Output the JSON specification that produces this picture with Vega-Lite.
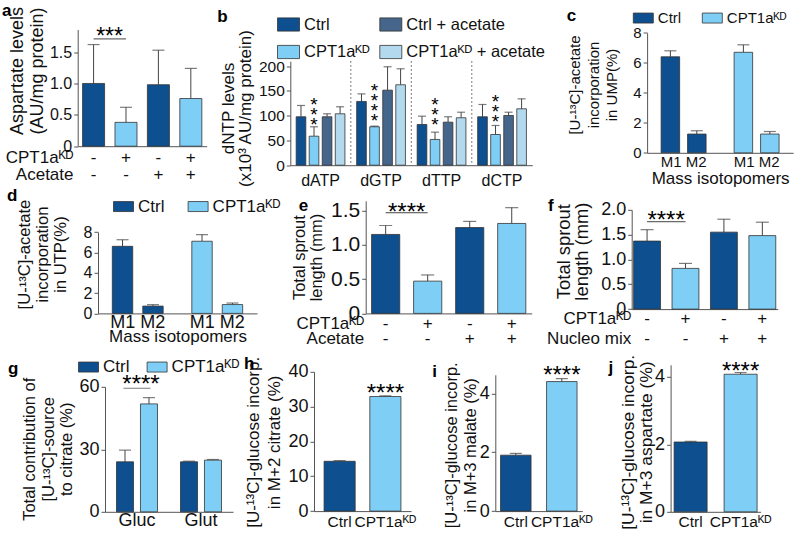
{
  "$schema": "https://vega.github.io/schema/vega-lite/v6.json",
  "background": "white",
  "padding": {"left": 2, "top": 1.5, "right": 0, "bottom": 0},
  "columns": 1,
  "spacing": -1.7,
  "resolve": {"scale": {"color": "independent", "xOffset": "independent"}, "legend": {"color": "independent"}},
  "config": {
    "font": "Liberation Sans",
    "view": {"stroke": null},
    "axis": {"labelFont": "Liberation Sans", "titleFont": "Liberation Sans", "labelFontSize": 17, "titleFontSize": 17, "titleFontWeight": "normal", "labelColor": "#111", "titleColor": "#111", "domainColor": "#555", "tickColor": "#555", "grid": false, "titleLineHeight": 19},
    "axisY": {"tickSize": 4, "labelPadding": 2, "titlePadding": 3, "tickCount": 20},
    "axisX": {"ticks": false, "labelAngle": 0, "labelPadding": 3},
    "legend": {"labelFont": "Liberation Sans", "labelFontSize": 17, "labelColor": "#111", "symbolStrokeColor": "#333", "symbolStrokeWidth": 1, "symbolOpacity": 1, "labelOffset": 4, "padding": 0},
    "title": {"font": "Liberation Sans", "fontSize": 17, "fontWeight": "bold", "anchor": "start", "frame": "group", "color": "#000", "baseline": "alphabetic"},
    "bar": {"stroke": "#333", "strokeWidth": 0.8},
    "tick": {"thickness": 1.2, "color": "#444"},
    "rule": {"color": "#444"},
    "text": {"font": "Liberation Sans", "color": "#000"}
  },
  "concat": [
    {
      "columns": 2, "spacing": -16.7,
      "resolve": {"scale": {"color": "independent", "xOffset": "independent"}, "legend": {"color": "independent"}},
      "concat": [
        {
          "width": 101.7, "height": 116.7,
          "title": {"text": "a", "dx": -103, "offset": -14},
          "data": {"values": [
            {"k": "-|-", "g": "Ctrl", "v": 1.0, "e": 1.62},
            {"k": "+|-", "g": "KD", "v": 0.38, "e": 0.62},
            {"k": "-|+", "g": "Ctrl", "v": 0.98, "e": 1.53},
            {"k": "+|+", "g": "KD", "v": 0.76, "e": 1.24}
          ]},
          "layer": [
            {"mark": {"type": "rule"},
             "encoding": {
               "x": {"field": "k", "type": "nominal", "scale": {"domain": ["-|-", "+|-", "-|+", "+|+"], "range": [-27.3, 101.7], "paddingInner": 0.32, "paddingOuter": 0.15},
                     "axis": {"title": ["CPT1aᴷᴰ", "Acetate"], "labelExpr": "split(datum.label,'|')", "labelFontSize": 17, "labelLineHeight": 17, "labelPadding": 3, "titleFontSize": 17, "titleAngle": 0, "titleAlign": "right", "titleBaseline": "top", "titleX": -32, "titleY": 3, "titleLineHeight": 17}},
               "y": {"field": "v", "type": "quantitative", "scale": {"domain": [0, 1.86], "nice": false},
                     "axis": {"values": [0, 0.5, 1, 1.5], "tickCount": 20, "offset": 27.3, "labelExpr": "datum.value < 0.001 ? '0' : format(datum.value, '.1f')", "labelFontSize": 16, "title": ["Aspartate levels", "(AU/mg protein)"], "titleFontSize": 18, "titleLineHeight": 20, "titlePadding": 2.5, "titleY": 41}},
               "y2": {"field": "e"}}},
            {"mark": {"type": "bar"},
             "encoding": {"x": {"field": "k", "type": "nominal"}, "y": {"field": "v", "type": "quantitative"},
               "color": {"field": "g", "type": "nominal", "scale": {"domain": ["Ctrl", "KD"], "range": ["#0d4f8f", "#7fcef5"]}, "legend": null}}},
            {"mark": {"type": "tick", "size": 12},
             "encoding": {"x": {"field": "k", "type": "nominal"}, "y": {"field": "e", "type": "quantitative"}}},
            {"data": {"values": [{"k": "-|-", "k2": "+|-", "v": 1.71, "sy": 1.915, "t": "***"}]},
             "layer": [
               {"mark": {"type": "rule"}, "encoding": {"x": {"field": "k", "type": "nominal"}, "x2": {"field": "k2"}, "y": {"field": "v", "type": "quantitative"}}},
               {"mark": {"type": "text", "fontSize": 23, "baseline": "top", "dx": 16}, "encoding": {"x": {"field": "k", "type": "nominal"}, "y": {"field": "sy", "type": "quantitative"}, "text": {"field": "t"}}}
             ]}
          ]
        },
        {
          "columns": 2, "spacing": 19.8,
          "resolve": {"scale": {"color": "independent", "xOffset": "independent"}, "legend": {"color": "independent"}},
          "concat": [
            {
              "width": 242, "height": 135.7,
              "title": {"text": "b", "dx": -73, "offset": -12.5},
              "data": {"values": [
                {"g": "dATP", "s": "Ctrl", "v": 97.8, "e": 120.6},
                {"g": "dATP", "s": "CPT1aᴷᴰ", "v": 58.6, "e": 77.6},
                {"g": "dATP", "s": "Ctrl + acetate", "v": 97.8, "e": 103.8},
                {"g": "dATP", "s": "CPT1aᴷᴰ + acetate", "v": 103.8, "e": 118},
                {"g": "dGTP", "s": "Ctrl", "v": 128.7, "e": 144},
                {"g": "dGTP", "s": "CPT1aᴷᴰ", "v": 77.6, "e": 78.9},
                {"g": "dGTP", "s": "Ctrl + acetate", "v": 151.5, "e": 198.8},
                {"g": "dGTP", "s": "CPT1aᴷᴰ + acetate", "v": 162.4, "e": 194.7},
                {"g": "dTTP", "s": "Ctrl", "v": 82.2, "e": 99},
                {"g": "dTTP", "s": "CPT1aᴷᴰ", "v": 52, "e": 66.7},
                {"g": "dTTP", "s": "Ctrl + acetate", "v": 86.9, "e": 97.8},
                {"g": "dTTP", "s": "CPT1aᴷᴰ + acetate", "v": 95.8, "e": 107},
                {"g": "dCTP", "s": "Ctrl", "v": 97.8, "e": 122.6},
                {"g": "dCTP", "s": "CPT1aᴷᴰ", "v": 62, "e": 80.2},
                {"g": "dCTP", "s": "Ctrl + acetate", "v": 100.4, "e": 107},
                {"g": "dCTP", "s": "CPT1aᴷᴰ + acetate", "v": 113.9, "e": 134}
              ]},
              "layer": [
                {"data": {"values": [{"g": "dGTP", "v": 210, "e": 0}, {"g": "dTTP", "v": 210, "e": 0}, {"g": "dCTP", "v": 210, "e": 0}]},
                 "mark": {"type": "rule", "strokeDash": [1.5, 2.5], "color": "#555"},
                 "encoding": {"x": {"field": "g", "type": "nominal", "bandPosition": 0}, "y": {"field": "v", "type": "quantitative"}, "y2": {"field": "e"}}},
                {"mark": {"type": "rule"},
                 "encoding": {
                   "x": {"field": "g", "type": "nominal", "scale": {"domain": ["dATP", "dGTP", "dTTP", "dCTP"], "paddingInner": 0, "paddingOuter": 0},
                         "axis": {"title": null, "labelPadding": 7, "labelFontSize": 16}},
                   "xOffset": {"field": "s", "type": "nominal", "scale": {"domain": ["Ctrl", "CPT1aᴷᴰ", "Ctrl + acetate", "CPT1aᴷᴰ + acetate"], "paddingInner": 0.26, "paddingOuter": 0.45}},
                   "y": {"field": "v", "type": "quantitative", "scale": {"domain": [0, 210], "nice": false, "range": [135.7, 31.7]},
                         "axis": {"values": [0, 50, 100, 150, 200], "tickCount": 20, "format": "d", "labelFontSize": 15.5, "title": ["dNTP levels", "(x10³ AU/mg protein)"], "titleFontSize": 17, "titleLineHeight": 17, "titlePadding": 4, "titleY": 78.5}},
                   "y2": {"field": "e"}}},
                {"mark": {"type": "bar"},
                 "encoding": {
                   "x": {"field": "g", "type": "nominal"},
                   "xOffset": {"field": "s", "type": "nominal"},
                   "y": {"field": "v", "type": "quantitative"},
                   "color": {"field": "s", "type": "nominal",
                     "scale": {"domain": ["Ctrl", "Ctrl + acetate", "CPT1aᴷᴰ", "CPT1aᴷᴰ + acetate"], "range": ["#0d4f8f", "#46658a", "#7fcef5", "#b3d9ee"]},
                     "legend": {"title": null, "orient": "none", "legendX": -13.3, "legendY": -16.5, "direction": "horizontal", "columns": 2, "columnPadding": 7.3, "rowPadding": 7.5, "labelFontSize": 16.5, "symbolType": "M-1,-0.6H1V0.6H-1Z", "symbolSize": 484}}}},
                {"mark": {"type": "tick", "size": 8},
                 "encoding": {"x": {"field": "g", "type": "nominal"}, "xOffset": {"field": "s", "type": "nominal"}, "y": {"field": "e", "type": "quantitative"}}},
                {"data": {"values": [
                   {"g": "dATP", "s": "CPT1aᴷᴰ", "sy": 138.8, "t": "*|*|*"},
                   {"g": "dGTP", "s": "CPT1aᴷᴰ", "sy": 169, "t": "*|*|*|*"},
                   {"g": "dTTP", "s": "CPT1aᴷᴰ", "sy": 138.8, "t": "*|*|*"},
                   {"g": "dCTP", "s": "CPT1aᴷᴰ", "sy": 144.8, "t": "*|*|*"}
                 ]},
                 "mark": {"type": "text", "fontSize": 19, "baseline": "top", "lineBreak": "|", "lineHeight": 10},
                 "encoding": {"x": {"field": "g", "type": "nominal"}, "xOffset": {"field": "s", "type": "nominal"}, "y": {"field": "sy", "type": "quantitative"}, "text": {"field": "t"}}}
              ]
            },
            {
              "width": 146, "height": 123.3,
              "title": {"text": "c", "dx": -80.3, "offset": -17.2},
              "data": {"values": [
                {"g": "Ctrl", "iso": "M1", "v": 6.4, "e": 6.8},
                {"g": "Ctrl", "iso": "M2", "v": 1.25, "e": 1.47},
                {"g": "CPT1aᴷᴰ", "iso": "M1", "v": 6.7, "e": 7.2},
                {"g": "CPT1aᴷᴰ", "iso": "M2", "v": 1.25, "e": 1.42}
              ]},
              "layer": [
                {"mark": {"type": "rule"},
                 "encoding": {
                   "x": {"field": "g", "type": "nominal", "scale": {"domain": ["Ctrl", "CPT1aᴷᴰ"], "paddingInner": 0, "paddingOuter": 0},
                         "axis": {"labelExpr": "'M1 M2'", "labelFontSize": 15, "labelPadding": 2, "title": "Mass isotopomers", "titleFontSize": 17, "titlePadding": 1}},
                   "xOffset": {"field": "iso", "type": "nominal", "scale": {"paddingInner": 0.3, "paddingOuter": 0.53}},
                   "y": {"field": "v", "type": "quantitative", "scale": {"domain": [0, 8], "nice": false, "range": [123.3, 3.3]},
                         "axis": {"values": [0, 2, 4, 6, 8], "tickCount": 20, "format": "d", "labelFontSize": 15, "title": ["[U-¹³C]-acetate", "incorporation", "in UMP(%)"], "titleFontSize": 15, "titleLineHeight": 18.5, "titlePadding": 13, "titleY": 55}},
                   "y2": {"field": "e"}}},
                {"mark": {"type": "bar"},
                 "encoding": {
                   "x": {"field": "g", "type": "nominal"}, "xOffset": {"field": "iso", "type": "nominal"},
                   "y": {"field": "v", "type": "quantitative"},
                   "color": {"field": "g", "type": "nominal", "scale": {"domain": ["Ctrl", "CPT1aᴷᴰ"], "range": ["#0d4f8f", "#7fcef5"]},
                     "legend": {"title": null, "orient": "none", "legendX": -14.3, "legendY": -22.2, "direction": "horizontal", "columnPadding": 18, "labelFontSize": 15, "symbolType": "M-1,-0.5H1V0.5H-1Z", "symbolSize": 400}}}},
                {"mark": {"type": "tick", "size": 12},
                 "encoding": {"x": {"field": "g", "type": "nominal"}, "xOffset": {"field": "iso", "type": "nominal"}, "y": {"field": "e", "type": "quantitative"}}}
              ]
            }
          ]
        }
      ]
    },
    {
      "columns": 1, "spacing": 7,
      "resolve": {"scale": {"color": "independent", "xOffset": "independent"}, "legend": {"color": "independent"}},
      "concat": [
        {
          "columns": 2, "spacing": 9.7,
          "resolve": {"scale": {"color": "independent", "xOffset": "independent"}, "legend": {"color": "independent"}},
          "concat": [
            {
              "width": 152, "height": 112.6,
              "title": {"text": "d", "dx": -98, "offset": -9.3},
              "data": {"values": [
                {"g": "Ctrl", "iso": "M1", "v": 6.6, "e": 7.25},
                {"g": "Ctrl", "iso": "M2", "v": 0.72, "e": 0.86},
                {"g": "CPT1aᴷᴰ", "iso": "M1", "v": 7.1, "e": 7.75},
                {"g": "CPT1aᴷᴰ", "iso": "M2", "v": 0.87, "e": 1.02}
              ]},
              "layer": [
                {"mark": {"type": "rule"},
                 "encoding": {
                   "x": {"field": "g", "type": "nominal", "scale": {"domain": ["Ctrl", "CPT1aᴷᴰ"], "range": [-7, 152], "paddingInner": 0, "paddingOuter": 0},
                         "axis": {"labelExpr": "'M1 M2'", "labelFontSize": 18, "labelPadding": 0, "title": "Mass isotopomers", "titleFontSize": 17, "titlePadding": -3}},
                   "xOffset": {"field": "iso", "type": "nominal", "scale": {"paddingInner": 0.33, "paddingOuter": 0.47}},
                   "y": {"field": "v", "type": "quantitative", "scale": {"domain": [0, 8], "nice": false, "range": [112.6, 31.3]},
                         "axis": {"values": [0, 2, 4, 6, 8], "tickCount": 20, "format": "d", "offset": 7, "labelFontSize": 16, "title": ["[U-¹³C]-acetate", "incorporation", "in UTP(%)"], "titleFontSize": 16.6, "titleLineHeight": 18, "titlePadding": 15, "titleY": 53.3}},
                   "y2": {"field": "e"}}},
                {"mark": {"type": "bar"},
                 "encoding": {
                   "x": {"field": "g", "type": "nominal"}, "xOffset": {"field": "iso", "type": "nominal"},
                   "y": {"field": "v", "type": "quantitative"},
                   "color": {"field": "g", "type": "nominal", "scale": {"domain": ["Ctrl", "CPT1aᴷᴰ"], "range": ["#0d4f8f", "#7fcef5"]},
                     "legend": {"title": null, "orient": "none", "legendX": 8, "legendY": -5, "direction": "horizontal", "columnPadding": 20.6, "labelFontSize": 17, "symbolType": "M-1,-0.5H1V0.5H-1Z", "symbolSize": 400}}}},
                {"mark": {"type": "tick", "size": 12},
                 "encoding": {"x": {"field": "g", "type": "nominal"}, "xOffset": {"field": "iso", "type": "nominal"}, "y": {"field": "e", "type": "quantitative"}}}
              ]
            },
            {
              "columns": 2, "spacing": 14,
              "resolve": {"scale": {"color": "independent", "xOffset": "independent"}, "legend": {"color": "independent"}},
              "concat": [
                {
                  "width": 166, "height": 112.6,
                  "title": {"text": "e", "dx": -67, "offset": -15.5},
                  "data": {"values": [
                    {"k": "-|-", "g": "Ctrl", "v": 1.15, "e": 1.28},
                    {"k": "+|-", "g": "KD", "v": 0.47, "e": 0.56},
                    {"k": "-|+", "g": "Ctrl", "v": 1.25, "e": 1.34},
                    {"k": "+|+", "g": "KD", "v": 1.31, "e": 1.54}
                  ]},
                  "layer": [
                    {"mark": {"type": "rule"},
                     "encoding": {
                       "x": {"field": "k", "type": "nominal", "scale": {"domain": ["-|-", "+|-", "-|+", "+|+"], "paddingInner": 0.33, "paddingOuter": 0.14},
                             "axis": {"title": ["CPT1aᴷᴰ", "Acetate"], "labelExpr": "split(datum.label,'|')", "labelFontSize": 17, "labelLineHeight": 14.5, "labelPadding": 2.5, "titleFontSize": 17, "titleAngle": 0, "titleAlign": "right", "titleBaseline": "top", "titleX": -2, "titleY": 2.5, "titleLineHeight": 14.5}},
                       "y": {"field": "v", "type": "quantitative", "scale": {"domain": [0, 1.64], "nice": false},
                             "axis": {"values": [0, 0.5, 1, 1.5], "tickCount": 20, "labelExpr": "datum.value < 0.001 ? '0' : format(datum.value, '.1f')", "labelFontSize": 21, "title": ["Total sprout", "length (mm)"], "titleFontSize": 16.4, "titleLineHeight": 17, "titlePadding": 6.5}},
                       "y2": {"field": "e"}}},
                    {"mark": {"type": "bar"},
                     "encoding": {"x": {"field": "k", "type": "nominal"}, "y": {"field": "v", "type": "quantitative"},
                       "color": {"field": "g", "type": "nominal", "scale": {"domain": ["Ctrl", "KD"], "range": ["#0d4f8f", "#7fcef5"]}, "legend": null}}},
                    {"mark": {"type": "tick", "size": 13},
                     "encoding": {"x": {"field": "k", "type": "nominal"}, "y": {"field": "e", "type": "quantitative"}}},
                    {"data": {"values": [{"k": "-|-", "k2": "+|-", "v": 1.466, "sy": 1.636, "t": "****"}]},
                     "layer": [
                       {"mark": {"type": "rule"}, "encoding": {"x": {"field": "k", "type": "nominal"}, "x2": {"field": "k2"}, "y": {"field": "v", "type": "quantitative"}}},
                       {"mark": {"type": "text", "fontSize": 24, "baseline": "top", "dx": 21}, "encoding": {"x": {"field": "k", "type": "nominal"}, "y": {"field": "sy", "type": "quantitative"}, "text": {"field": "t"}}}
                     ]}
                  ]
                },
                {
                  "width": 146, "height": 108.3,
                  "title": {"text": "f", "dx": -83.7, "offset": -14.3},
                  "data": {"values": [
                    {"k": "-|-", "g": "Ctrl", "v": 1.37, "e": 1.6},
                    {"k": "+|-", "g": "KD", "v": 0.82, "e": 0.92},
                    {"k": "-|+", "g": "Ctrl", "v": 1.55, "e": 1.81},
                    {"k": "+|+", "g": "KD", "v": 1.48, "e": 1.75}
                  ]},
                  "layer": [
                    {"mark": {"type": "rule"},
                     "encoding": {
                       "x": {"field": "k", "type": "nominal", "scale": {"domain": ["-|-", "+|-", "-|+", "+|+"], "paddingInner": 0.3, "paddingOuter": 0.05},
                             "axis": {"title": ["CPT1aᴷᴰ", "Nucleo mix"], "labelExpr": "split(datum.label,'|')", "labelFontSize": 17, "labelLineHeight": 20, "labelPadding": 1, "titleFontSize": 17, "titleAngle": 0, "titleAlign": "right", "titleBaseline": "top", "titleX": -1, "titleY": 1, "titleLineHeight": 20}},
                       "y": {"field": "v", "type": "quantitative", "scale": {"domain": [0, 2], "nice": false, "range": [108.3, 9]},
                             "axis": {"values": [0, 0.5, 1, 1.5, 2], "tickCount": 20, "labelExpr": "datum.value < 0.001 ? '0' : format(datum.value, '.1f')", "labelFontSize": 18, "title": ["Total sprout", "length (mm)"], "titleFontSize": 18.4, "titleLineHeight": 18, "titlePadding": 8.7, "titleY": 50.3}},
                       "y2": {"field": "e"}}},
                    {"mark": {"type": "bar"},
                     "encoding": {"x": {"field": "k", "type": "nominal"}, "y": {"field": "v", "type": "quantitative"},
                       "color": {"field": "g", "type": "nominal", "scale": {"domain": ["Ctrl", "KD"], "range": ["#0d4f8f", "#7fcef5"]}, "legend": null}}},
                    {"mark": {"type": "tick", "size": 13},
                     "encoding": {"x": {"field": "k", "type": "nominal"}, "y": {"field": "e", "type": "quantitative"}}},
                    {"data": {"values": [{"k": "-|-", "k2": "+|-", "v": 1.76, "sy": 2.01, "t": "****"}]},
                     "layer": [
                       {"mark": {"type": "rule"}, "encoding": {"x": {"field": "k", "type": "nominal"}, "x2": {"field": "k2"}, "y": {"field": "v", "type": "quantitative"}}},
                       {"mark": {"type": "text", "fontSize": 24, "baseline": "top", "dx": 19}, "encoding": {"x": {"field": "k", "type": "nominal"}, "y": {"field": "sy", "type": "quantitative"}, "text": {"field": "t"}}}
                     ]}
                  ]
                }
              ]
            }
          ]
        },
        {
          "columns": 2, "spacing": 4,
          "resolve": {"scale": {"color": "independent", "xOffset": "independent"}, "legend": {"color": "independent"}},
          "concat": [
            {
              "width": 128, "height": 147,
              "title": {"text": "g", "dx": -97, "offset": -21.5},
              "data": {"values": [
                {"src": "Gluc", "g": "Ctrl", "v": 24, "e": 29.6},
                {"src": "Gluc", "g": "CPT1aᴷᴰ", "v": 51.8, "e": 54.8},
                {"src": "Glut", "g": "Ctrl", "v": 24, "e": 24.3},
                {"src": "Glut", "g": "CPT1aᴷᴰ", "v": 24.8, "e": 25.1}
              ]},
              "layer": [
                {"mark": {"type": "rule"},
                 "encoding": {
                   "x": {"field": "src", "type": "nominal", "scale": {"domain": ["Gluc", "Glut"], "paddingInner": 0, "paddingOuter": 0},
                         "axis": {"title": null, "labelPadding": 0, "labelFontSize": 18}},
                   "xOffset": {"field": "g", "type": "nominal", "scale": {"domain": ["Ctrl", "CPT1aᴷᴰ"], "paddingInner": 0.29, "paddingOuter": 0.48}},
                   "y": {"field": "v", "type": "quantitative", "scale": {"domain": [0, 60], "nice": false, "range": [147, 22]},
                         "axis": {"values": [0, 30, 60], "tickCount": 20, "format": "d", "labelFontSize": 18, "title": ["Total contribution of", "[U-¹³C]-source", "to citrate (%)"], "titleFontSize": 16.5, "titleLineHeight": 18.5, "titlePadding": 4, "titleY": 84}},
                   "y2": {"field": "e"}}},
                {"mark": {"type": "bar"},
                 "encoding": {
                   "x": {"field": "src", "type": "nominal"}, "xOffset": {"field": "g", "type": "nominal"},
                   "y": {"field": "v", "type": "quantitative"},
                   "color": {"field": "g", "type": "nominal", "scale": {"domain": ["Ctrl", "CPT1aᴷᴰ"], "range": ["#0d4f8f", "#7fcef5"]},
                     "legend": {"title": null, "orient": "none", "legendX": -27, "legendY": -8.5, "direction": "horizontal", "columnPadding": 14.6, "labelFontSize": 17, "symbolType": "M-1,-0.5H1V0.5H-1Z", "symbolSize": 400}}}},
                {"mark": {"type": "tick", "size": 12},
                 "encoding": {"x": {"field": "src", "type": "nominal"}, "xOffset": {"field": "g", "type": "nominal"}, "y": {"field": "e", "type": "quantitative"}}},
                {"data": {"values": [{"src": "Gluc", "v": 59.3, "sy": 66.4, "t": "****"}]},
                 "layer": [
                   {"mark": {"type": "tick", "size": 27, "thickness": 1, "color": "#444"}, "encoding": {"x": {"field": "src", "type": "nominal"}, "y": {"field": "v", "type": "quantitative"}}},
                   {"mark": {"type": "text", "fontSize": 24, "baseline": "top", "dx": 4}, "encoding": {"x": {"field": "src", "type": "nominal"}, "y": {"field": "sy", "type": "quantitative"}, "text": {"field": "t"}}}
                 ]}
              ]
            },
            {
              "columns": 3, "spacing": 16.3,
              "resolve": {"scale": {"color": "independent", "xOffset": "independent"}, "legend": {"color": "independent"}},
              "concat": [
                {
                  "width": 97, "height": 146.3,
                  "title": {"text": "h", "dx": -70, "offset": -16.5},
                  "data": {"values": [
                    {"g": "Ctrl", "v": 14.3, "e": 14.5, "sy": null, "t": ""},
                    {"g": "CPT1aᴷᴰ", "v": 32.9, "e": 33.1, "sy": 37.06, "t": "****"}
                  ]},
                  "layer": [
                    {"mark": {"type": "rule"},
                     "encoding": {
                       "x": {"field": "g", "type": "nominal", "scale": {"domain": ["Ctrl", "CPT1aᴷᴰ"], "paddingInner": 0.32, "paddingOuter": 0.22}, "axis": {"title": null, "labelPadding": 3, "labelFontSize": 15.5}},
                       "y": {"field": "v", "type": "quantitative", "scale": {"domain": [0, 40], "nice": false, "range": [146.3, 7]},
                             "axis": {"values": [0, 10, 20, 30, 40], "tickCount": 20, "format": "d", "labelFontSize": 18, "title": ["[U-¹³C]-glucose incorp.", "in M+2 citrate (%)"], "titleFontSize": 17, "titleLineHeight": 21, "titlePadding": 4, "titleY": 77}},
                       "y2": {"field": "e"}}},
                    {"mark": {"type": "bar"},
                     "encoding": {"x": {"field": "g", "type": "nominal"}, "y": {"field": "v", "type": "quantitative"},
                       "color": {"field": "g", "type": "nominal", "scale": {"domain": ["Ctrl", "CPT1aᴷᴰ"], "range": ["#0d4f8f", "#7fcef5"]}, "legend": null}}},
                    {"mark": {"type": "tick", "size": 12},
                     "encoding": {"x": {"field": "g", "type": "nominal"}, "y": {"field": "e", "type": "quantitative"}}},
                    {"mark": {"type": "text", "fontSize": 24, "baseline": "top"},
                     "encoding": {"x": {"field": "g", "type": "nominal"}, "y": {"field": "sy", "type": "quantitative"}, "text": {"field": "t"}}}
                  ]
                },
                {
                  "width": 87, "height": 146.3,
                  "title": {"text": "i", "dx": -63, "offset": -19},
                  "data": {"values": [
                    {"g": "Ctrl", "v": 1.9, "e": 1.96, "sy": null, "t": ""},
                    {"g": "CPT1aᴷᴰ", "v": 4.4, "e": 4.5, "sy": 5.01, "t": "****"}
                  ]},
                  "layer": [
                    {"mark": {"type": "rule"},
                     "encoding": {
                       "x": {"field": "g", "type": "nominal", "scale": {"domain": ["Ctrl", "CPT1aᴷᴰ"], "paddingInner": 0.337, "paddingOuter": 0.114}, "axis": {"title": null, "labelPadding": 3, "labelFontSize": 15.5}},
                       "y": {"field": "v", "type": "quantitative", "scale": {"domain": [0, 4.63], "nice": false, "range": [146.3, 10]},
                             "axis": {"values": [0, 2, 4], "tickCount": 20, "format": "d", "labelFontSize": 18, "title": ["[U-¹³C]-glucose incorp.", "in M+3 malate (%)"], "titleFontSize": 16.5, "titleLineHeight": 19, "titlePadding": 1, "titleY": 80}},
                       "y2": {"field": "e"}}},
                    {"mark": {"type": "bar"},
                     "encoding": {"x": {"field": "g", "type": "nominal"}, "y": {"field": "v", "type": "quantitative"},
                       "color": {"field": "g", "type": "nominal", "scale": {"domain": ["Ctrl", "CPT1aᴷᴰ"], "range": ["#0d4f8f", "#7fcef5"]}, "legend": null}}},
                    {"mark": {"type": "tick", "size": 12},
                     "encoding": {"x": {"field": "g", "type": "nominal"}, "y": {"field": "e", "type": "quantitative"}}},
                    {"mark": {"type": "text", "fontSize": 24, "baseline": "top"},
                     "encoding": {"x": {"field": "g", "type": "nominal"}, "y": {"field": "sy", "type": "quantitative"}, "text": {"field": "t"}}}
                  ]
                },
                {
                  "width": 90, "height": 147,
                  "title": {"text": "j", "dx": -62, "offset": -22.5},
                  "data": {"values": [
                    {"g": "Ctrl", "v": 2.07, "e": 2.09, "sy": null, "t": ""},
                    {"g": "CPT1aᴷᴰ", "v": 4.08, "e": 4.13, "sy": 4.49, "t": "****"}
                  ]},
                  "layer": [
                    {"mark": {"type": "rule"},
                     "encoding": {
                       "x": {"field": "g", "type": "nominal", "scale": {"domain": ["Ctrl", "CPT1aᴷᴰ"], "paddingInner": 0.34, "paddingOuter": 0.07}, "axis": {"title": null, "labelPadding": 3, "labelFontSize": 15.5}},
                       "y": {"field": "v", "type": "quantitative", "scale": {"domain": [0, 4.36], "nice": false},
                             "axis": {"values": [0, 2, 4], "tickCount": 20, "format": "d", "labelFontSize": 18, "title": ["[U-¹³C]-glucose incorp.", "in M+3 aspartate (%)"], "titleFontSize": 17.4, "titleLineHeight": 18, "titlePadding": -1, "titleY": 77}},
                       "y2": {"field": "e"}}},
                    {"mark": {"type": "bar"},
                     "encoding": {"x": {"field": "g", "type": "nominal"}, "y": {"field": "v", "type": "quantitative"},
                       "color": {"field": "g", "type": "nominal", "scale": {"domain": ["Ctrl", "CPT1aᴷᴰ"], "range": ["#0d4f8f", "#7fcef5"]}, "legend": null}}},
                    {"mark": {"type": "tick", "size": 12},
                     "encoding": {"x": {"field": "g", "type": "nominal"}, "y": {"field": "e", "type": "quantitative"}}},
                    {"mark": {"type": "text", "fontSize": 24, "baseline": "top"},
                     "encoding": {"x": {"field": "g", "type": "nominal"}, "y": {"field": "sy", "type": "quantitative"}, "text": {"field": "t"}}}
                  ]
                }
              ]
            }
          ]
        }
      ]
    }
  ]
}
